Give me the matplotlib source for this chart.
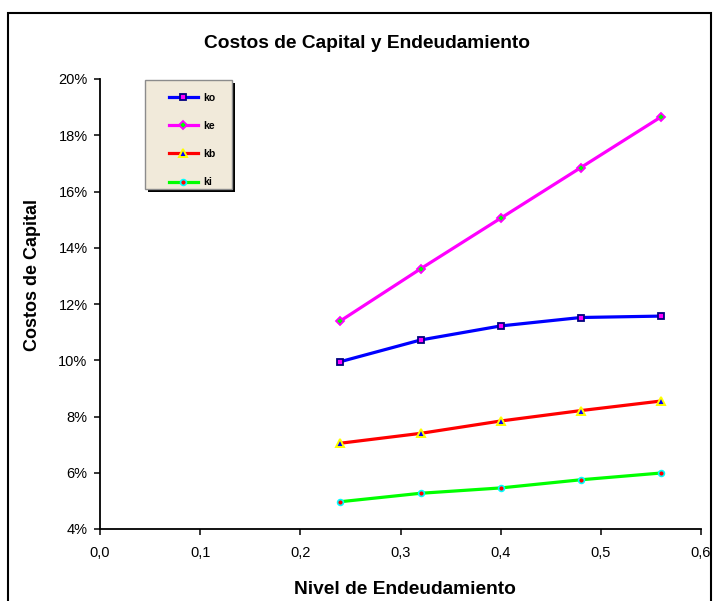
import matplotlib
matplotlib.use("Agg")
import matplotlib.pyplot as plt
from matplotlib.patches import Rectangle
from matplotlib.ticker import FuncFormatter

plt.rcParams['font.family'] = ['Liberation Sans', 'DejaVu Sans']

# datos
nivel = [0.24, 0.32, 0.40, 0.48, 0.56]
ko = [9.95, 10.72, 11.22, 11.52, 11.57]
ke = [11.40, 13.25, 15.05, 16.85, 18.65]
kb = [7.05, 7.40, 7.84, 8.21, 8.55]
ki = [4.97, 5.27, 5.46, 5.75, 5.99]
labels = ['ko', 'ke', 'kb', 'ki']

fig = plt.figure(figsize=(7.17, 6.01), dpi=100)
ax = fig.add_axes([100/717, 72/601, 601/717, 450/601])

series = [ko, ke, kb, ki]
styles = [
    dict(color='#0000FF', marker='s', mfc='#FF00FF', mec='#000080', ms=4.5, mew=1.3),
    dict(color='#FF00FF', marker='D', mfc='#00FF00', mec='#FF00FF', ms=4.5, mew=1.3),
    dict(color='#FF0000', marker='^', mfc='#0000FF', mec='#FFFF00', ms=6, mew=1.4),
    dict(color='#00FF00', marker='o', mfc='#FF0000', mec='#00FFFF', ms=4.2, mew=1.2),
]
for s, lab, st in zip(series, labels, styles):
    ax.plot(nivel, s, lw=2.3, label=lab, clip_on=False, **st)

ax.set_xlim(0, 0.6)
ax.set_ylim(4, 20)
ax.set_xticks([0, 0.1, 0.2, 0.3, 0.4, 0.5, 0.6])
ax.set_yticks(range(4, 21, 2))
ax.xaxis.set_major_formatter(FuncFormatter(lambda v, p: f"{v:.1f}".replace('.', ',')))
ax.yaxis.set_major_formatter(FuncFormatter(lambda v, p: f"{v:.0f}%"))
ax.tick_params(axis='both', direction='out', length=4, width=1.1, labelsize=10.5, colors='black')
ax.tick_params(axis='x', pad=8)
ax.tick_params(axis='y', pad=5)
for side in ['top', 'right']:
    ax.spines[side].set_visible(False)
for side in ['left', 'bottom']:
    ax.spines[side].set_linewidth(1.3)

# caja de la leyenda con sombra
bx, by, bw, bh = 0.0749, 0.7556, 0.1448, 0.2422
ax.add_patch(Rectangle((bx + 0.005, by - 0.007), bw, bh, transform=ax.transAxes,
                       facecolor='black', edgecolor='none', clip_on=False, zorder=4))
ax.add_patch(Rectangle((bx, by), bw, bh, transform=ax.transAxes,
                       facecolor='#F1EADA', edgecolor='#8C8C8C', lw=1.0, clip_on=False, zorder=5))
leg = ax.legend(loc='upper left', bbox_to_anchor=(bx + 0.022, by + bh - 0.005),
                frameon=False, prop={'weight': 'bold', 'size': 7.5},
                handlelength=2.8, handletextpad=0.5, labelspacing=1.75, borderpad=0.5)
leg.set_zorder(6)

fig.text(367/717, 1 - 44/601, 'Costos de Capital y Endeudamiento', ha='center', va='center',
         fontsize=13.8, fontweight='bold')
fig.text(405/717, 1 - 589/601, 'Nivel de Endeudamiento', ha='center', va='center',
         fontsize=13.8, fontweight='bold')
fig.text(33/717, 1 - 275/601, 'Costos de Capital', ha='center', va='center',
         fontsize=13, fontweight='bold', rotation=90)

# marco exterior
fig.patches.append(Rectangle((8/717, -0.05), 703/717, 1.05 - 13/601, transform=fig.transFigure,
                             facecolor='none', edgecolor='black', lw=1.5))

fig.savefig('out.png', dpi=100)
